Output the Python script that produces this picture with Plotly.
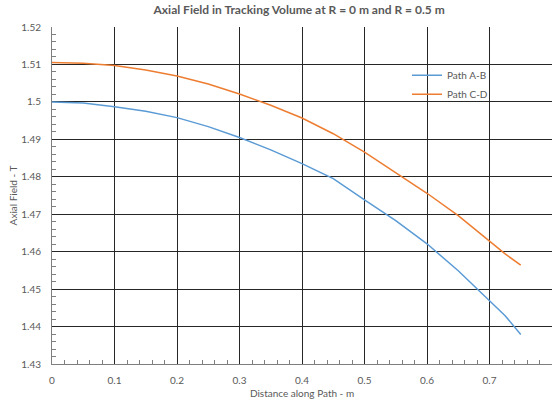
import plotly.graph_objects as go

x_ab = [0.0, 0.05, 0.1, 0.15, 0.2, 0.25, 0.3, 0.35, 0.4, 0.45, 0.5, 0.55, 0.6, 0.65, 0.7, 0.725, 0.75]
y_ab = [1.5000, 1.4997, 1.4987, 1.4975, 1.4958, 1.4934, 1.4905, 1.4872, 1.4835, 1.4795,
        1.4738, 1.4683, 1.4621, 1.4549, 1.4469, 1.4429, 1.4379]
x_cd = [0.0, 0.05, 0.1, 0.15, 0.2, 0.25, 0.3, 0.35, 0.4, 0.45, 0.5, 0.55, 0.6, 0.65, 0.7, 0.725, 0.75]
y_cd = [1.5105, 1.5103, 1.5097, 1.5085, 1.5069, 1.5048, 1.5021, 1.4991, 1.4957, 1.4915,
        1.4866, 1.4812, 1.4756, 1.4696, 1.4629, 1.4594, 1.4564]

font = "Lato"
txt = "#595959"

fig = go.Figure()
fig.add_trace(go.Scatter(x=x_ab, y=y_ab, mode="lines", name="Path A-B",
                         line=dict(color="#5B9BD5", width=1.5)))
fig.add_trace(go.Scatter(x=x_cd, y=y_cd, mode="lines", name="Path C-D",
                         line=dict(color="#ED7D31", width=1.5)))

fig.update_layout(
    width=558, height=402,
    margin=dict(l=52, r=6, t=27, b=38),
    paper_bgcolor="white", plot_bgcolor="white",
    font=dict(family=font, size=10, color=txt),
    title=dict(text="<b>Axial Field in Tracking Volume at R = 0 m and R = 0.5 m</b>",
               x=0.536, xanchor="center", y=0.975, yanchor="middle",
               font=dict(size=12, color=txt)),
    legend=dict(x=0.71, y=0.9, xanchor="left", yanchor="top",
                bgcolor="rgba(0,0,0,0)", font=dict(size=10, color=txt),
                tracegroupgap=0, itemwidth=30),
    xaxis=dict(range=[0, 0.8], dtick=0.1, tick0=0, showgrid=True,
               gridcolor="#262626", gridwidth=1, zeroline=False,
               showline=True, linecolor="#7f7f7f", linewidth=1,
               ticks="", tickformat="~g", ticklabelstandoff=7,
               minor=dict(ticks="inside", dtick=0.02, ticklen=4, tickcolor="#7f7f7f", showgrid=False),
               title=dict(text="Distance along Path - m", standoff=4, font=dict(size=10, color=txt))),
    yaxis=dict(range=[1.43, 1.52], dtick=0.01, tick0=1.43, showgrid=True,
               gridcolor="#262626", gridwidth=1, zeroline=False,
               showline=True, linecolor="#7f7f7f", linewidth=1,
               ticks="", tickformat="~g", ticklabelstandoff=8,
               minor=dict(ticks="inside", dtick=0.002, ticklen=4, tickcolor="#7f7f7f", showgrid=False),
               title=dict(text="Axial Field - T", standoff=1, font=dict(size=10, color=txt))),
)

fig.write_html("out.html")
